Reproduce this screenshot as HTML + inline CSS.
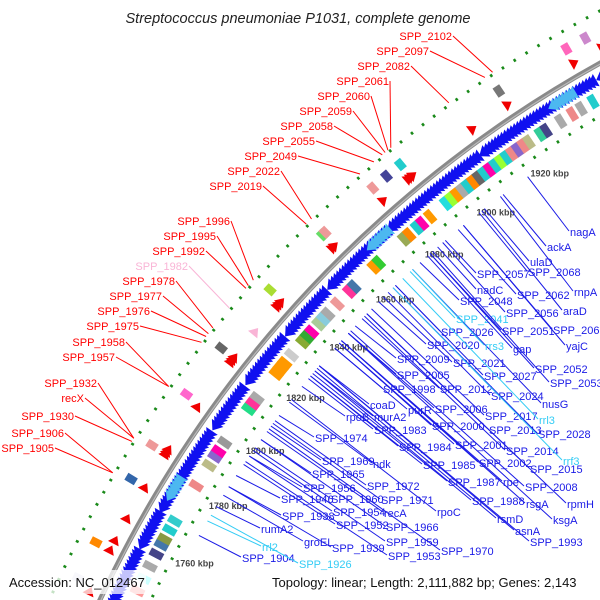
<!DOCTYPE html>
<html><head><meta charset="utf-8"><style>
html,body{margin:0;padding:0;background:#fff;width:600px;height:600px;overflow:hidden}
svg{display:block;font-family:"Liberation Sans",sans-serif;overflow:hidden}
</style></head><body>
<svg id="chart" width="600" height="600" viewBox="0 0 600 600" xmlns="http://www.w3.org/2000/svg">
<defs><clipPath id="frame"><rect x="0" y="0" width="600" height="600"/></clipPath></defs>
<g clip-path="url(#frame)">
<g id="rings"></g>
<g id="labels"></g>
</g>
<rect x="4" y="570" width="142" height="24" fill="#fff" opacity="0.75"/>
<rect x="268" y="570" width="326" height="24" fill="#fff" opacity="0.75"/>
<text x="298" y="23" text-anchor="middle" font-size="14.5" font-style="italic" fill="#222">Streptococcus pneumoniae P1031, complete genome</text>
<text x="9" y="587" font-size="13" fill="#111">Accession: NC_012467</text>
<text x="272" y="587" font-size="13" fill="#111">Topology: linear; Length: 2,111,882 bp; Genes: 2,143</text>
</svg>
<script>
// ---- data ----
const genomeLength = 2111.882; // kbp
const tickKbp = [1760,1780,1800,1820,1840,1860,1880,1900,1920];
const tickLabels = ["1760 kbp","1780 kbp","1800 kbp","1820 kbp","1840 kbp","1860 kbp","1880 kbp","1900 kbp","1920 kbp"];
const redArrowKbp = [1738,1751,1754,1761,1771,1782,1782.8,1783.6,1798,1813.7,1814.5,1815.3,1834,1834.8,1835.6,1856.5,1857.3,1876,1885.2,1886,1886.8,1908,1920,1942,1951];
const pinkArrowKbp = [1824.5];
const blueRunStart = [1736,1756,1768,1780,1796,1812,1830,1848,1872,1906,1946];
const blueRunEnd   = [1754,1766,1779,1794,1810,1828,1846,1870,1904,1944,1965];
const lightRunStart = [1772,1864,1930];
const lightRunEnd   = [1778,1871,1937];
const outerBoxKbp = [1740,1751,1771,1782,1799,1815,1836,1857,1858,1876,1881,1886,1920,1942,1948];
const outerBoxColor = ["#dde","#f80","#36a","#e99","#f6c","#666","#ad3","#6d6","#e99","#e99","#449","#2cc","#777","#f6b","#c8c"];
const innerBoxKbp = [1744,1748,1752,1756,1759,1761,1764,1767,1779,1786,1789,1791,1794,1806,1808,1810,1819,1821,1823,1826,1831,1833,1835,1838,1840,1842,1846,1851,1853,1861,1863,1873,1875,1878,1880,1883,1889,1891,1893,1895,1897,1899,1901,1903,1905,1907,1909,1911,1913,1915,1917,1919,1923,1925,1930,1934,1937,1941];
const innerBoxColor = ["#f99","#cff","#aaa","#448","#47a","#894","#2cc","#3cc","#e88","#bb8","#86c","#f0a","#999","#2d8","#f39","#aaa","#f90","#f90","#f90","#ccc","#8a3","#3a3","#f0a","#ac9","#8cd","#aaa","#e99","#f39","#47a","#f90","#3c3","#9a5","#f80","#2cc","#f0a","#f90","#2dd","#9f3","#f90","#aaa","#2cc","#f80","#666","#2cc","#f0a","#2cc","#9f3","#2cc","#e88","#86c","#e88","#bb8","#3c9","#448","#aaa","#e88","#aaa","#2cc"];
const redNames = ["SPP_2102","SPP_2097","SPP_2082","SPP_2061","SPP_2060","SPP_2059","SPP_2058","SPP_2055","SPP_2049","SPP_2022","SPP_2019","SPP_1996","SPP_1995","SPP_1992","SPP_1982","SPP_1978","SPP_1977","SPP_1976","SPP_1975","SPP_1958","SPP_1957","SPP_1932","recX","SPP_1930","SPP_1906","SPP_1905"];
const redKbp = [1922.5,1920,1908,1888,1887,1886,1885,1882,1877,1859,1857,1836,1834,1833,1826,1819,1817,1816,1814,1799,1799,1782,1782,1781,1771,1771];
const redTextX = [452,429,410,389,370,352,333,315,297,280,262,230,216,205,188,175,162,150,139,125,115,97,84,74,64,54];
const redTextY = [40,55,70,85,100,115,130,145,160,175,190,225,240,255,270,285,300,315,330,346,361,387,402,420,437,452];
const blueNames = ["SPP_1904","SPP_1926","rumA2","rrl2","SPP_1938","SPP_1939","groEL","SPP_1946","SPP_1952","SPP_1953","SPP_1954","recA","SPP_1956","SPP_1959","SPP_1960","SPP_1965","SPP_1966","SPP_1969","SPP_1970","SPP_1971","SPP_1972","SPP_1974","ndk","rpoC","rpoB","murA2","SPP_1983","SPP_1984","SPP_1985","SPP_1987","SPP_1988","coaD","rpe","rsmD","asnA","SPP_1993","purR","SPP_1998","SPP_2000","SPP_2001","SPP_2002","SPP_2005","SPP_2006","SPP_2008","SPP_2009","rsgA","SPP_2012","SPP_2013","SPP_2014","SPP_2015","ksgA","rpmH","SPP_2017","SPP_2020","SPP_2021","SPP_2024","SPP_2026","SPP_2027","SPP_2028","nusG","rrl3","rrf3","rrs3","SPP_2041","SPP_2048","nadC","gap","SPP_2051","SPP_2052","SPP_2053","SPP_2056","SPP_2057","SPP_2062","SPP_2063","yajC","araD","SPP_2068","ulaD","rnpA","ackA","nagA"];
const blueKbp = [1768,1775,1778,1773,1785,1785,1782,1789,1793,1794,1796,1805,1796,1798,1799,1802,1802,1807,1806,1808,1809,1811,1816,1817,1822,1828,1825,1826,1826,1827,1828,1830,1840,1829,1830,1830,1837,1837,1839,1839,1840,1843,1843,1844,1846,1840,1849,1851,1850,1851,1843,1851,1853,1856,1858,1860,1863,1863,1862,1870,1866,1862,1870,1869,1873,1880,1876,1877,1877,1878,1882,1883,1888,1890,1890,1897,1896,1898,1904,1905,1914];
const blueTextX = [242,299,261,262,282,332,304,281,336,388,333,384,303,386,331,312,386,322,441,381,367,315,373,437,346,374,374,399,423,448,472,370,503,497,515,530,408,383,432,455,479,397,435,525,397,526,440,489,506,530,553,567,485,427,453,491,441,484,538,542,539,563,485,456,460,477,513,502,535,550,506,477,517,553,566,563,528,530,574,547,570];
const blueTextY = [562,568,533,551,520,552,546,503,529,560,516,517,492,546,503,478,531,465,555,504,490,442,468,516,421,421,434,451,469,486,505,409,486,523,535,546,414,393,430,449,467,379,413,491,363,508,393,434,455,473,524,508,420,349,367,400,336,380,438,408,424,465,350,323,305,294,353,335,373,387,317,278,299,334,350,315,276,266,296,251,236];
const cyanLabels = ["SPP_1926","rrl2","rrl3","rrf3","rrs3","SPP_2041"];

// ---- geometry ----
const CX = 1176, CY = 1101, R = 1187;
const ANGLE_AT_1760 = 208.7; // degrees, screen coords
const NS = "http://www.w3.org/2000/svg";
function ang(k){ return (ANGLE_AT_1760 + (k-1760)/genomeLength*360) * Math.PI/180; }
function pt(k,r){ const a=ang(k); return [CX + r*Math.cos(a), CY + r*Math.sin(a)]; }
function arcD(k1,k2,r){ const p=pt(k1,r), q=pt(k2,r); return `M${p[0].toFixed(2)},${p[1].toFixed(2)} A${r},${r} 0 0 1 ${q[0].toFixed(2)},${q[1].toFixed(2)}`; }
function mk(tag, attrs, parent){ const e=document.createElementNS(NS,tag); for(const k in attrs) e.setAttribute(k,attrs[k]); parent.appendChild(e); return e; }
const rings = document.getElementById('rings');
const labels = document.getElementById('labels');

let bb = mk('path',{d:arcD(1700,1990,R),fill:'none',stroke:'#8a8a8a','stroke-width':5},rings);


let bbh = mk('path',{d:arcD(1700,1990,R-1),fill:'none',stroke:'#bbb','stroke-width':1.2},rings);



let od = mk('path',{d:arcD(1700,1990,R+46),fill:'none',stroke:'#1a8a1a','stroke-width':3,'stroke-dasharray':'2.5 11.5'},rings);


let id2 = mk('path',{d:arcD(1700,1990,R-46),fill:'none',stroke:'#1a8a1a','stroke-width':3,'stroke-dasharray':'2.5 11.5'},rings);



function arrow(kTip, len, r, hw, color, name){
  const a=pt(kTip,r), b=pt(kTip+len,r-hw), c=pt(kTip+len,r+hw);
  const p = mk('polygon',{points:`${a[0]},${a[1]} ${b[0]},${b[1]} ${c[0]},${c[1]}`,fill:color},rings);
  
  
}
function fwdArrow(k, len, r, hw, color, name){
  const a=pt(k+len,r), b=pt(k,r-hw), c=pt(k,r+hw);
  const p = mk('polygon',{points:`${a[0]},${a[1]} ${b[0]},${b[1]} ${c[0]},${c[1]}`,fill:color},rings);
  
  
}
blueRunStart.forEach((s,i)=>{
  for(let k=s;k<blueRunEnd[i];k+=1.1) arrow(k,2.6,R-13,7,'#1010f0','reverse-gene-arrow');
});
lightRunStart.forEach((s,i)=>{
  for(let k=s;k<lightRunEnd[i];k+=1.1) arrow(k,2.6,R-13,7,'#4cb8f0','rrna-arrow');
});
redArrowKbp.forEach(k=> fwdArrow(k,2.4,R+13,6,'#f00000','forward-gene-arrow'));
pinkArrowKbp.forEach(k=> fwdArrow(k,2.4,R+13,6,'#f9b4d6','forward-rna-arrow'));

outerBoxKbp.forEach((k,i)=>{
  const p = mk('path',{d:arcD(k,k+2.2,R+29),fill:'none',stroke:outerBoxColor[i],'stroke-width':11},rings);
  
  
});
innerBoxKbp.forEach((k,i)=>{
  const p = mk('path',{d:arcD(k,k+2.2,R-30),fill:'none',stroke:innerBoxColor[i],'stroke-width':14},rings);
  
  
});

tickKbp.forEach((k,i)=>{
  const p=pt(k,R-68);
  const t = mk('text',{x:p[0].toFixed(1),y:(p[1]+3).toFixed(1),'text-anchor':'middle','font-size':9,fill:'#444','font-weight':'bold'},labels);
  t.textContent = tickLabels[i];
  
  
});

redNames.forEach((n,i)=>{
  const col = n==="SPP_1982" ? '#f9b4d6' : '#f00';
  const e = pt(redKbp[i], R+48);
  const l = mk('line',{x1:redTextX[i]+1,y1:redTextY[i]-4,x2:e[0].toFixed(1),y2:e[1].toFixed(1),stroke:col,'stroke-width':1},labels);
  
  
  const t = mk('text',{x:redTextX[i],y:redTextY[i],'text-anchor':'end','font-size':11,fill:col},labels);
  t.textContent = n;
  
  
});

blueNames.forEach((n,i)=>{
  const col = cyanLabels.includes(n) ? '#33ccf5' : '#1a1ae6';
  const s = pt(blueKbp[i], R-58);
  const l = mk('line',{x1:s[0].toFixed(1),y1:s[1].toFixed(1),x2:blueTextX[i]-1,y2:blueTextY[i]-5,stroke:col,'stroke-width':1},labels);
  
  
  const t = mk('text',{x:blueTextX[i],y:blueTextY[i],'font-size':11,fill:col},labels);
  t.textContent = n;
  
  
});
</script>
</body></html>
